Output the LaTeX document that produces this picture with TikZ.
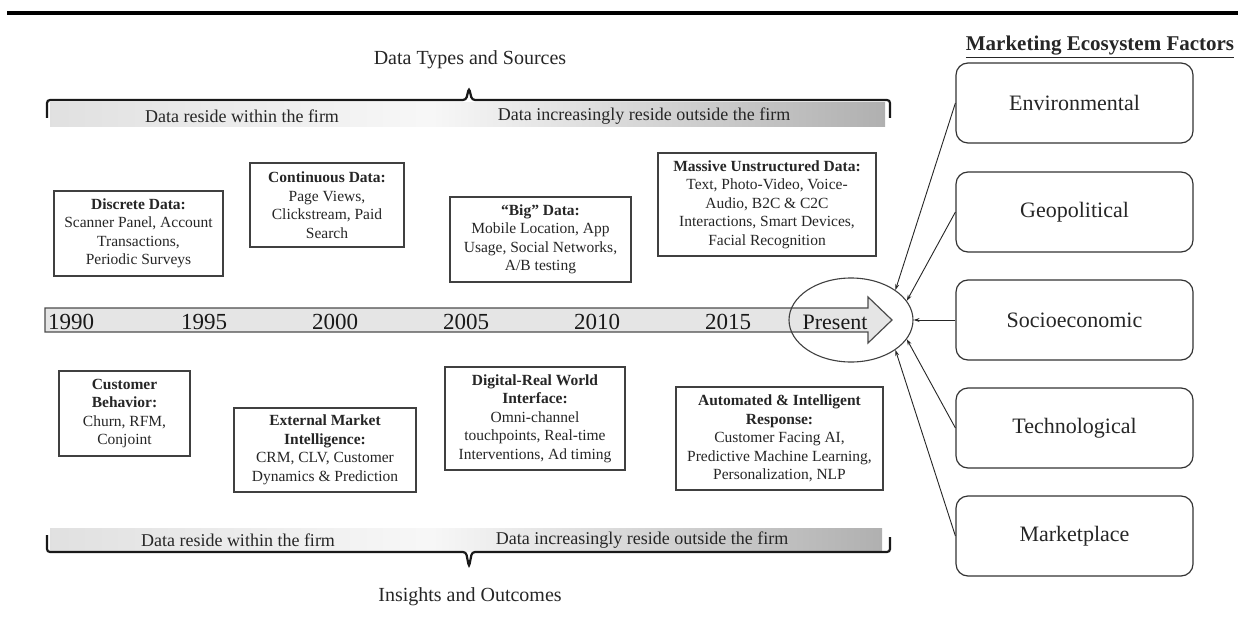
\documentclass[tikz,border=0pt]{standalone}
\usepackage{fontspec}
\setmainfont{Liberation Serif}
\usetikzlibrary{arrows.meta,shapes.geometric}
\begin{document}
\begin{tikzpicture}[x=1pt,y=-1pt,
 tbox/.style={draw=black!75,line width=1.1pt,align=center,inner sep=0pt,font=\fontsize{15.5}{18.5}\selectfont,text=black!85},
 rbox/.style={draw=black!80,line width=1.2pt,rounded corners=12pt,minimum width=237,minimum height=80,inner sep=0pt,font=\fontsize{22}{26}\selectfont,text=black!85},
 yr/.style={font=\fontsize{23}{26}\selectfont,inner sep=0pt,text=black!90},
 band/.style={font=\fontsize{18}{21}\selectfont,inner sep=0pt,text=black!85},
 ttl/.style={font=\fontsize{20}{24}\selectfont,inner sep=0pt,text=black!85},
 brace/.style={line width=2.2pt,rounded corners=3pt,black!90},
 conn/.style={line width=0.9pt,black!85,-{Stealth[length=6pt,width=4pt]}}
]
\useasboundingbox (0,0) rectangle (1238,620);
\fill[white] (0,0) rectangle (1238,620);
\draw[line width=3.5pt] (7,13) -- (1238,13);

% top title and brace
\node[ttl] (tts) at (470,60) {Data Types and Sources};
\fill[left color=gray!24,right color=gray!6] (50,103) rectangle (430,127);
\fill[left color=gray!6,right color=gray!62] (430,103) rectangle (885,127);
\draw[brace] (47,118) -- (47,100) -- (466,100) -- (469,88) -- (472,100) -- (890,100) -- (890,118);
\node[band] (t1) at (242,116) {Data reside within the firm};
\node[band] (t2) at (644,116) {Data increasingly reside outside the firm};

% bottom title and brace
\fill[left color=gray!24,right color=gray!6] (50,528) rectangle (430,551);
\fill[left color=gray!6,right color=gray!62] (430,528) rectangle (882,551);
\draw[brace] (47,535) -- (47,552) -- (466,552) -- (469,567) -- (472,552) -- (890,552) -- (890,537);
\node[band] (b1) at (238,540) {Data reside within the firm};
\node[band] (b2) at (642,540) {Data increasingly reside outside the firm};
\node[ttl] (io) at (470,597) {Insights and Outcomes};

% upper boxes
\node[tbox,minimum width=169,minimum height=85] (dd) at (138.5,233.5) {\textbf{Discrete Data:}\\Scanner Panel, Account\\Transactions,\\Periodic Surveys};
\node[tbox,minimum width=154,minimum height=84] (cd) at (327,205) {\textbf{Continuous Data:}\\Page Views,\\Clickstream, Paid\\Search};
\node[tbox,minimum width=181,minimum height=85] (bd) at (540.5,239.5) {\textbf{“Big” Data:}\\Mobile Location, App\\Usage, Social Networks,\\A/B testing};
\node[tbox,minimum width=218,minimum height=103] (mu) at (767,204.5) {\textbf{Massive Unstructured Data:}\\Text, Photo-Video, Voice-\\Audio, B2C \& C2C\\Interactions, Smart Devices,\\Facial Recognition};

% lower boxes
\node[tbox,minimum width=131,minimum height=85] (cb) at (124.5,413.5) {\textbf{Customer}\\\textbf{Behavior:}\\Churn, RFM,\\Conjoint};
\node[tbox,minimum width=182,minimum height=84] (em) at (325,450) {\textbf{External Market}\\\textbf{Intelligence:}\\CRM, CLV, Customer\\Dynamics \& Prediction};
\node[tbox,minimum width=180,minimum height=103] (dr) at (535,418.5) {\textbf{Digital-Real World}\\\textbf{Interface:}\\Omni-channel\\touchpoints, Real-time\\Interventions, Ad timing};
\node[tbox,minimum width=207,minimum height=103] (ai) at (779.5,438.5) {\textbf{Automated \& Intelligent}\\\textbf{Response:}\\Customer Facing AI,\\Predictive Machine Learning,\\Personalization, NLP};

% timeline
\draw[fill=gray!20,draw=black!70,line width=1.2pt] (45,308) -- (868,308) -- (868,297) -- (892,320) -- (868,343) -- (868,332) -- (45,332) -- cycle;
\node[yr] (y1) at (71,322) {1990};
\node[yr] (y2) at (204,322) {1995};
\node[yr] (y3) at (335,322) {2000};
\node[yr] (y4) at (466,322) {2005};
\node[yr] (y5) at (597,322) {2010};
\node[yr] (y6) at (728,322) {2015};
\node[yr,font=\fontsize{22}{26}\selectfont] (pr) at (835,322) {Present};
\node[draw=black!75,line width=1.1pt,ellipse,minimum width=124,minimum height=84,inner sep=0pt] (pres) at (851,320) {};

% ecosystem factors
\node[font=\fontsize{21}{25}\selectfont\bfseries,inner sep=0pt,text=black!85] (mef) at (1100,47) {\underline{Marketing Ecosystem Factors}};
\node[rbox] (env) at (1074.5,103) {Environmental};
\node[rbox] (geo) at (1074.5,212) {Geopolitical};
\node[rbox] (soc) at (1074.5,320) {Socioeconomic};
\node[rbox] (tec) at (1074.5,428) {Technological};
\node[rbox] (mkt) at (1074.5,536) {Marketplace};

\draw[conn] (env.west) -- (pres.34);
\draw[conn] (geo.west) -- (pres.19);
\draw[conn] (soc.west) -- (pres.0);
\draw[conn] (tec.west) -- (pres.-19);
\draw[conn] (mkt.west) -- (pres.-34);
\end{tikzpicture}
\end{document}
